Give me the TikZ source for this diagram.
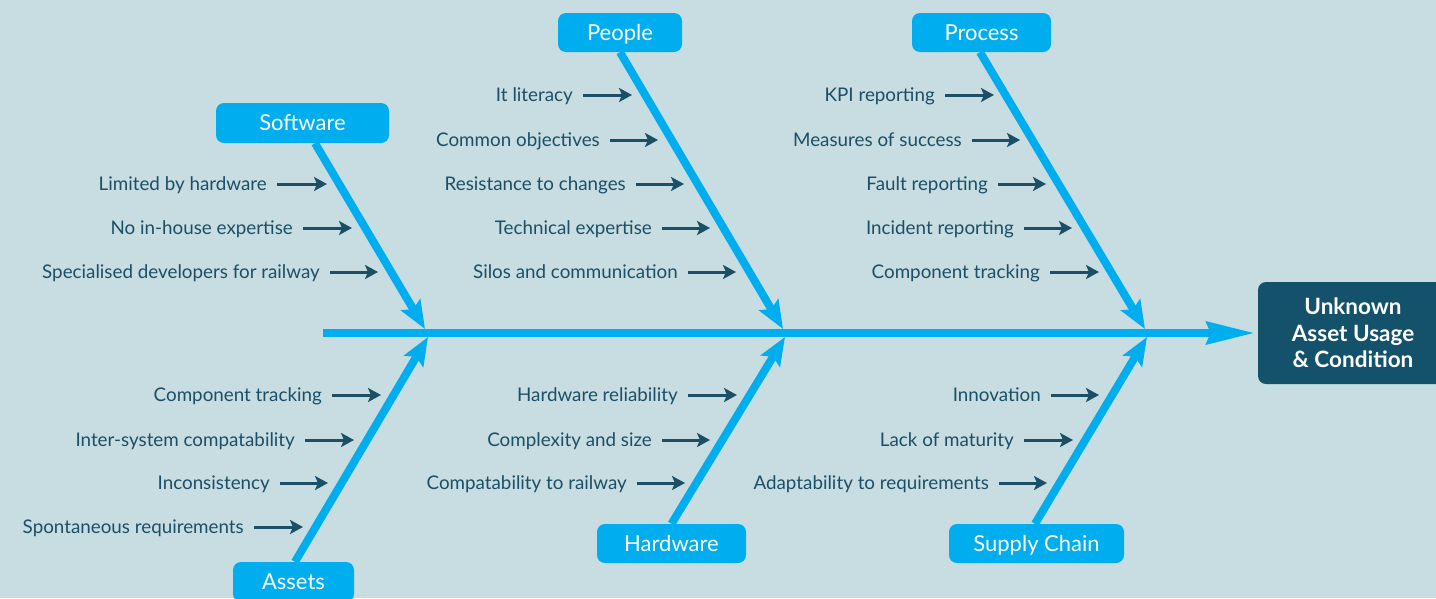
\documentclass[tikz,border=0pt]{standalone}
\usepackage{fontspec}
\setmainfont{Lato}
\usetikzlibrary{arrows.meta,calc}
\definecolor{bg}{HTML}{C7DDE2}
\definecolor{cy}{HTML}{00AEEF}
\definecolor{dk}{HTML}{1B4F66}
\definecolor{eff}{HTML}{14516A}
\newcommand\cz[5]{%
  \node[cause] (#1) at (#3-10,-#4) {#2};
  \coordinate (#1-e) at (#5,-#4);
  \draw[ca] ([xshift=10pt]#1.east) -- (#1-e);}
\begin{document}
\begin{tikzpicture}[x=1pt,y=1pt,
 cat/.style={fill=cy, rounded corners=8pt, text=white, font=\fontsize{22}{26}\selectfont, minimum height=40pt, inner sep=0pt, text height=15.8pt, text depth=0pt},
 cause/.style={text=dk, font=\fontsize{18.8}{22}\selectfont, anchor=east, inner sep=0pt, text height=13.5pt, text depth=0pt},
 ca/.style={draw=dk, line width=3pt, -{Stealth[length=13pt,width=14pt,inset=3pt]}},
 bone/.style={draw=cy, line width=8pt, -{Stealth[length=28pt,width=22pt,inset=5pt]}},
 spine/.style={draw=cy, line width=8pt, -{Stealth[length=48pt,width=22pt,inset=4pt]}, shorten >=3pt},
 effect/.style={fill=eff, rounded corners=8pt, text=white, font=\bfseries\fontsize{22.5}{26.5}\selectfont, align=center, minimum width=190pt, minimum height=102pt, inner sep=0pt}
]
\fill[bg] (0,0) rectangle (1436,-598);
\useasboundingbox (0,0) rectangle (1436,-598);

% effect and spine
\node[effect] (eff) at (1353,-333) {Unknown\\Asset Usage\\\& Condition};
\coordinate (tail) at (323,-333);
\draw[spine] (tail) -- (eff.west);

% category boxes
\node[cat, minimum width=173pt] (sw) at (302.5,-123) {Software};
\node[cat, minimum width=124pt, minimum height=39pt] (pe) at (620,-32.5) {People};
\node[cat, minimum width=139pt, minimum height=39pt] (pr) at (981.5,-32.5) {Process};
\node[cat, minimum width=121pt] (as) at (293.5,-582) {Assets};
\node[cat, minimum width=149pt, minimum height=39pt] (hw) at (671.5,-543.5) {Hardware};
\node[cat, minimum width=175pt, minimum height=39pt] (sc) at (1036.5,-543.5) {Supply Chain};

% bone tips on the spine
\coordinate (swt) at (425,-329);
\coordinate (pet) at (783,-329);
\coordinate (prt) at (1145,-329);
\coordinate (ast) at (428,-337);
\coordinate (hwt) at (785,-337);
\coordinate (sct) at (1147,-337);

\draw[bone] ($(sw.south)+(12.5,0)$) -- (swt);
\draw[bone] (pe.south) -- (pet);
\draw[bone] ($(pr.south)+(-1.5,0)$) -- (prt);
\draw[bone] ($(as.north)+(1.5,0)$) -- (ast);
\draw[bone] (hw.north) -- (hwt);
\draw[bone] ($(sc.north)+(-1.5,0)$) -- (sct);

% causes
\cz{s1}{Limited by hardware}{277}{184}{327}
\cz{s2}{No in-house expertise}{303}{228}{352}
\cz{s3}{Specialised developers for railway}{330}{272}{378}

\cz{p1}{It literacy}{583}{95}{632}
\cz{p2}{Common objectives}{610}{140}{658}
\cz{p3}{Resistance to changes}{636}{184}{684}
\cz{p4}{Technical expertise}{662}{228}{710}
\cz{p5}{Silos and communication}{688}{272}{736}

\cz{r1}{KPI reporting}{945}{95}{994}
\cz{r2}{Measures of success}{972}{140}{1020}
\cz{r3}{Fault reporting}{998}{184}{1046}
\cz{r4}{Incident reporting}{1024}{228}{1072}
\cz{r5}{Component tracking}{1050}{272}{1099}

\cz{a1}{Component tracking}{332}{395}{381}
\cz{a2}{Inter-system compatability}{305}{440}{354}
\cz{a3}{Inconsistency}{280}{483}{328}
\cz{a4}{Spontaneous requirements}{254}{527}{303}

\cz{h1}{Hardware reliability}{688}{395}{737}
\cz{h2}{Complexity and size}{662}{440}{710}
\cz{h3}{Compatability to railway}{637}{483}{685}

\cz{c1}{Innovation}{1051}{395}{1099}
\cz{c2}{Lack of maturity}{1024}{440}{1073}
\cz{c3}{Adaptability to requirements}{999}{483}{1047}
\end{tikzpicture}
\end{document}
